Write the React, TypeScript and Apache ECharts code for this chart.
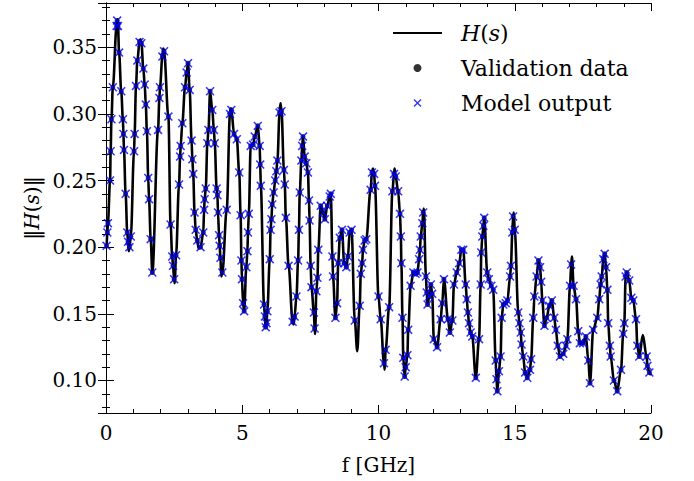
import React, { useEffect, useRef } from "react";
import * as echarts from "echarts";

// f [GHz], |H(s)| (validation samples; the model output coincides)
const validationData: [number, number][] = [
  [0.02, 0.201], [0.05, 0.211], [0.07, 0.218], [0.15, 0.25], [0.17, 0.272], [0.2, 0.296], [0.25, 0.32],
  [0.39, 0.366], [0.41, 0.37], [0.44, 0.366], [0.48, 0.346], [0.56, 0.317], [0.62, 0.296], [0.64, 0.285],
  [0.66, 0.273], [0.72, 0.24], [0.78, 0.211], [0.81, 0.204], [0.86, 0.2], [0.91, 0.208], [1.03, 0.272],
  [1.05, 0.285], [1.1, 0.321], [1.15, 0.34], [1.23, 0.354], [1.3, 0.353], [1.37, 0.334], [1.42, 0.322],
  [1.46, 0.307], [1.5, 0.287], [1.55, 0.252], [1.58, 0.236], [1.64, 0.206], [1.7, 0.181], [1.91, 0.288],
  [1.96, 0.312], [1.98, 0.32], [2.07, 0.343], [2.13, 0.347], [2.29, 0.298], [2.37, 0.217], [2.43, 0.193],
  [2.46, 0.186], [2.5, 0.176], [2.57, 0.194], [2.68, 0.247], [2.72, 0.268], [2.74, 0.276], [2.8, 0.293],
  [2.9, 0.32], [2.96, 0.331], [3.01, 0.338], [3.07, 0.318], [3.14, 0.28], [3.17, 0.266], [3.2, 0.255],
  [3.25, 0.226], [3.29, 0.213], [3.35, 0.205], [3.47, 0.2], [3.57, 0.211], [3.6, 0.228], [3.62, 0.236],
  [3.66, 0.244], [3.72, 0.278], [3.76, 0.288], [3.82, 0.317], [3.9, 0.303], [3.96, 0.288], [3.99, 0.278],
  [4.06, 0.244], [4.09, 0.239], [4.11, 0.226], [4.15, 0.209], [4.17, 0.201], [4.2, 0.192], [4.27, 0.181],
  [4.43, 0.228], [4.55, 0.3], [4.6, 0.303], [4.7, 0.285], [4.8, 0.281], [4.89, 0.256], [4.94, 0.224],
  [4.97, 0.19], [4.99, 0.176], [5.03, 0.158], [5.07, 0.152], [5.15, 0.185], [5.19, 0.197], [5.21, 0.211],
  [5.24, 0.225], [5.31, 0.276], [5.4, 0.277], [5.46, 0.283], [5.57, 0.291], [5.64, 0.276], [5.66, 0.262],
  [5.68, 0.246], [5.8, 0.157], [5.83, 0.148], [5.86, 0.14], [5.89, 0.143], [5.92, 0.152], [6.01, 0.191],
  [6.04, 0.213], [6.07, 0.221], [6.1, 0.232], [6.15, 0.241], [6.21, 0.25], [6.25, 0.257], [6.29, 0.265],
  [6.37, 0.301], [6.44, 0.302], [6.53, 0.258], [6.56, 0.247], [6.6, 0.222], [6.7, 0.186], [6.85, 0.144],
  [6.92, 0.148], [6.99, 0.163], [7.05, 0.19], [7.08, 0.213], [7.11, 0.241], [7.17, 0.265], [7.2, 0.276],
  [7.23, 0.283], [7.29, 0.268], [7.35, 0.263], [7.41, 0.256], [7.45, 0.235], [7.47, 0.22], [7.51, 0.186],
  [7.54, 0.17], [7.63, 0.151], [7.655, 0.139], [7.72, 0.167], [7.76, 0.177], [7.79, 0.198], [7.88, 0.231],
  [7.96, 0.226], [8.03, 0.221], [8.12, 0.231], [8.21, 0.238], [8.25, 0.24], [8.31, 0.193], [8.33, 0.178],
  [8.42, 0.147], [8.48, 0.158], [8.52, 0.188], [8.58, 0.207], [8.66, 0.213], [8.74, 0.188], [8.82, 0.185],
  [8.88, 0.193], [8.94, 0.211], [9.01, 0.213], [9.13, 0.145], [9.31, 0.156], [9.35, 0.18], [9.4, 0.188],
  [9.43, 0.198], [9.49, 0.205], [9.55, 0.206], [9.71, 0.243], [9.76, 0.256], [9.84, 0.255], [9.87, 0.246],
  [10.0, 0.163], [10.08, 0.146], [10.2, 0.113], [10.26, 0.123], [10.39, 0.155], [10.51, 0.242],
  [10.57, 0.255], [10.63, 0.253], [10.72, 0.242], [10.79, 0.225], [10.82, 0.208], [10.84, 0.188],
  [10.88, 0.147], [10.91, 0.117], [10.96, 0.103], [11.0, 0.11], [11.06, 0.119], [11.09, 0.138],
  [11.18, 0.171], [11.28, 0.181], [11.36, 0.18], [11.43, 0.181], [11.49, 0.191], [11.52, 0.198],
  [11.55, 0.208], [11.61, 0.218], [11.64, 0.226], [11.74, 0.178], [11.77, 0.166], [11.8, 0.157],
  [11.86, 0.163], [11.92, 0.172], [11.97, 0.165], [12.03, 0.131], [12.15, 0.125], [12.28, 0.146],
  [12.34, 0.158], [12.4, 0.176], [12.55, 0.146], [12.62, 0.136], [12.71, 0.145], [12.77, 0.172],
  [12.87, 0.181], [12.96, 0.188], [13.04, 0.198], [13.11, 0.198], [13.2, 0.172], [13.24, 0.161],
  [13.28, 0.151], [13.32, 0.143], [13.38, 0.136], [13.44, 0.133], [13.57, 0.102], [13.69, 0.131],
  [13.75, 0.172], [13.77, 0.196], [13.81, 0.208], [13.85, 0.216], [13.88, 0.222], [13.99, 0.181],
  [14.05, 0.176], [14.14, 0.171], [14.21, 0.168], [14.3, 0.115], [14.33, 0.101], [14.36, 0.092],
  [14.42, 0.107], [14.48, 0.118], [14.52, 0.147], [14.58, 0.157], [14.67, 0.158], [14.73, 0.16],
  [14.83, 0.178], [14.86, 0.186], [14.91, 0.211], [14.94, 0.223], [15.0, 0.213], [15.13, 0.151],
  [15.17, 0.143], [15.22, 0.136], [15.25, 0.127], [15.31, 0.118], [15.38, 0.106], [15.46, 0.102],
  [15.56, 0.108], [15.6, 0.116], [15.68, 0.147], [15.72, 0.163], [15.8, 0.178], [15.87, 0.19],
  [15.93, 0.185], [15.97, 0.174], [16.01, 0.16], [16.09, 0.141], [16.17, 0.147], [16.27, 0.156],
  [16.36, 0.16], [16.45, 0.147], [16.51, 0.138], [16.58, 0.126], [16.66, 0.118], [16.78, 0.12],
  [16.88, 0.126], [16.93, 0.131], [17.03, 0.171], [17.07, 0.187], [17.16, 0.171], [17.25, 0.161],
  [17.33, 0.137], [17.39, 0.128], [17.51, 0.128], [17.61, 0.133], [17.7, 0.115], [17.76, 0.098],
  [17.88, 0.138], [18.03, 0.147], [18.1, 0.161], [18.15, 0.172], [18.19, 0.178], [18.25, 0.191],
  [18.3, 0.195], [18.35, 0.185], [18.4, 0.168], [18.43, 0.143], [18.49, 0.126], [18.52, 0.118],
  [18.64, 0.1], [18.76, 0.092], [18.9, 0.108], [18.98, 0.135], [19.02, 0.143], [19.07, 0.178],
  [19.11, 0.181], [19.2, 0.175], [19.28, 0.162], [19.35, 0.16], [19.45, 0.146], [19.5, 0.126],
  [19.57, 0.118], [19.84, 0.118], [19.87, 0.111], [19.94, 0.106],
];

// Model output (blue crosses) sits on the validation samples
const modelOutputData: [number, number][] = validationData.map(([f, h]) => [f, h]);

// extra points of the H(s) curve where it runs past the samples (peaks / troughs / ends)
const curveExtraData: [number, number][] = [
  [0.0, 0.199], [0.425, 0.371], [0.835, 0.197], [1.265, 0.356], [2.1, 0.349], [2.52, 0.173],
  [3.4, 0.199], [4.23, 0.178], [4.575, 0.304], [6.405, 0.308], [6.885, 0.142], [7.675, 0.135],
  [9.22, 0.122], [9.795, 0.259], [10.23, 0.108], [10.59, 0.259], [11.665, 0.229], [14.965, 0.226],
  [17.1, 0.193], [19.7, 0.134], [20.0, 0.104],
];

const xTicks = { min: 0, max: 20, interval: 5 };
const yRange = { min: 0.0756, max: 0.3832 };

const FONT = "DejaVu Serif";
const CROSS = "path://M0,1.2L1.2,0L5,3.8L8.8,0L10,1.2L6.2,5L10,8.8L8.8,10L5,6.2L1.2,10L0,8.8L3.8,5Z";

export default function App() {
  const ref = useRef<HTMLDivElement>(null);
  useEffect(() => {
    if (!ref.current) return;
    const chart = echarts.init(ref.current, null, { renderer: "svg" });
    const curve = [...validationData, ...curveExtraData].sort((a, b) => a[0] - b[0]);
    const tickCommon = {
      axisLine: { show: true, lineStyle: { color: "#000", width: 1 } },
      axisTick: { show: true, inside: true, length: 8, lineStyle: { color: "#000", width: 1 } },
      minorTick: { show: true, splitNumber: 5, length: 4, lineStyle: { color: "#000", width: 1 } },
      splitLine: { show: false },
      minorSplitLine: { show: false },
    };
    chart.setOption({
      animation: false,
      backgroundColor: "#fff",
      grid: { left: 106, right: 43, top: 3, bottom: 68, containLabel: false },
      xAxis: [
        {
          type: "value", position: "bottom", ...xTicks, ...tickCommon,
          name: "f [GHz]", nameLocation: "middle", nameGap: 42,
          nameTextStyle: { fontFamily: FONT, fontSize: 20, color: "#000" },
          axisLabel: { fontFamily: FONT, fontSize: 20, color: "#000", margin: 10 },
        },
        {
          type: "value", position: "top", ...xTicks, ...tickCommon,
          axisLabel: { show: false },
        },
      ],
      yAxis: [
        {
          type: "value", position: "left", ...yRange, ...tickCommon,
          name: "{n|‖}{i|H}{n|(}{i|s}{n|)‖}", nameLocation: "middle", nameGap: 62, nameRotate: 90,
          nameTextStyle: {
            fontFamily: FONT, fontSize: 20, color: "#000",
            rich: {
              n: { fontFamily: FONT, fontSize: 20, color: "#000" },
              i: { fontFamily: FONT, fontSize: 20, color: "#000", fontStyle: "italic" },
            },
          },
          axisLabel: {
            fontFamily: FONT, fontSize: 20, color: "#000", margin: 9,
            showMinLabel: false, showMaxLabel: false,
            formatter: (v: number) => v.toFixed(2),
          },
        },
        {
          type: "value", position: "right", ...yRange, ...tickCommon,
          axisLabel: { show: false },
        },
      ],
      legend: {
        orient: "vertical", left: 392, top: 21, padding: 0, itemGap: 11,
        itemWidth: 49, itemHeight: 8,
        data: [
          { name: "H(s)", itemStyle: { opacity: 0, color: "rgba(0,0,0,0)", borderWidth: 0 } },
          { name: "Validation data", icon: "circle" },
          { name: "Model output" },
        ],
        formatter: (name: string) => (name === "H(s)" ? "{i|H}({i|s})" : name),
        textStyle: {
          fontFamily: FONT, fontSize: 22, color: "#000", lineHeight: 24, padding: [0, 0, 0, 14],
          rich: {
            i: { fontFamily: FONT, fontSize: 22, color: "#000", fontStyle: "italic", lineHeight: 24 },
          },
        },
      },
      series: [
        {
          name: "H(s)", type: "line", data: curve, smooth: 0.35, smoothMonotone: "x",
          symbol: "none", showSymbol: false, xAxisIndex: 0, yAxisIndex: 0,
          lineStyle: { color: "#000", width: 2.6 }, itemStyle: { color: "#000" }, z: 2,
        },
        {
          name: "Validation data", type: "scatter", data: validationData, symbol: "circle",
          symbolSize: 5, itemStyle: { color: "#000" }, z: 3,
        },
        {
          name: "Model output", type: "scatter", data: modelOutputData, symbol: CROSS,
          symbolSize: 9, itemStyle: { color: "#0000ff" }, z: 4,
        },
      ],
    });
    return () => chart.dispose();
  }, []);
  return (
    <div
      ref={ref}
      style={{ position: "fixed", left: 0, top: 0, width: 694, height: 481, background: "#fff" }}
    />
  );
}
